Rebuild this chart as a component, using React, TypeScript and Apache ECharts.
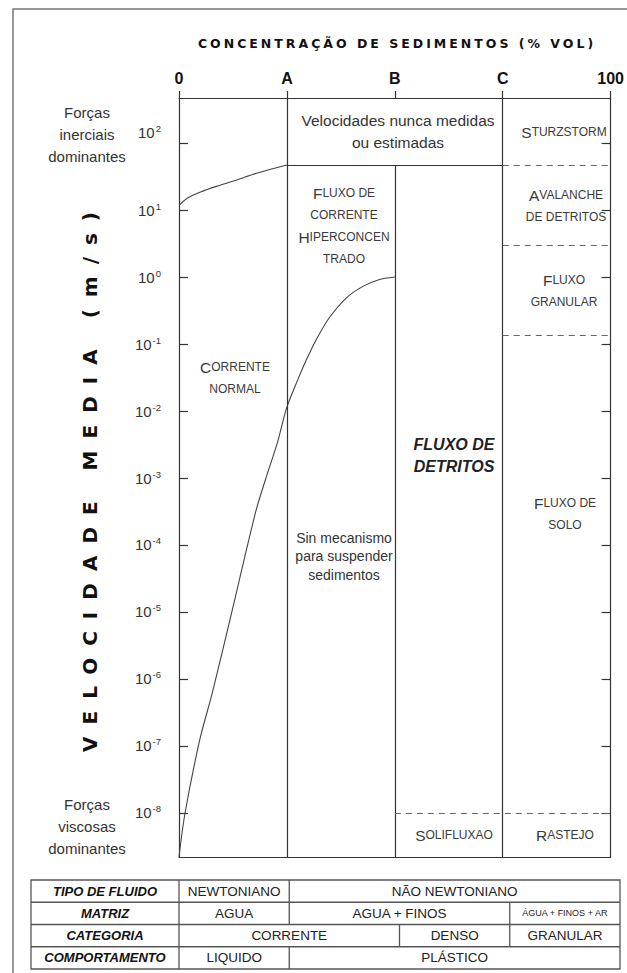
import React, { useEffect, useRef } from "react";
import * as echarts from "echarts";

// ---- axes ----
const xTickValues = [0, 25, 50, 75, 100];
const xTickLabels = ["0", "A", "B", "C", "100"];
const yTickExponents = [-8, -7, -6, -5, -4, -3, -2, -1, 0, 1, 2];
const yMinExp = -8.657;
const yMaxExp = 2.672;

// ---- curves (concentration %, log10 velocity m/s) ----
const upperConc = [0, 2, 5, 9, 13, 18, 25];
const upperLogV = [1.07, 1.18, 1.27, 1.36, 1.44, 1.55, 1.672];
const lowerConc = [0, 1.4, 4.8, 7.7, 12.2, 17.7, 20, 22.9, 24.9, 27.4, 29.7, 32, 34.9, 38.8, 42.6, 46.3, 50];
const lowerLogV = [-8.657, -8.0, -6.91, -6.21, -5.01, -3.52, -3.03, -2.45, -1.96, -1.55, -1.21, -0.91, -0.6, -0.31, -0.14, -0.04, 0];

// ---- region boundaries ----
const boxTopLogV = 1.672;
const solidBoundaries = [
  [[25, yMinExp], [25, yMaxExp]],
  [[50, yMinExp], [50, boxTopLogV]],
  [[75, yMinExp], [75, yMaxExp]],
  [[25, boxTopLogV], [75, boxTopLogV]],
];
const dashedBoundaries = [
  [[75, boxTopLogV], [100, boxTopLogV]],
  [[75, 0.467], [100, 0.467]],
  [[75, -0.866], [100, -0.866]],
  [[50, -8], [100, -8]],
];

// ---- table ----
const tableHeaders = ["TIPO DE FLUIDO", "MATRIZ", "CATEGORIA", "COMPORTAMENTO"];
const tipoFluido = [
  { text: "NEWTONIANO", from: 0, to: 25 },
  { text: "NÃO NEWTONIANO", from: 25, to: 100 },
];
const matriz = [
  { text: "AGUA", from: 0, to: 25 },
  { text: "AGUA + FINOS", from: 25, to: 75 },
  { text: "ÁGUA + FINOS + AR", from: 75, to: 100, small: true },
];
const categoria = [
  { text: "CORRENTE", from: 0, to: 50 },
  { text: "DENSO", from: 50, to: 75 },
  { text: "GRANULAR", from: 75, to: 100 },
];
const comportamento = [
  { text: "LIQUIDO", from: 0, to: 25 },
  { text: "PLÁSTICO", from: 25, to: 100 },
];

const X_TITLE = "CONCENTRAÇÃO DE SEDIMENTOS (% VOL)";
const Y_TITLE = "VELOCIDADE MEDIA (m/s)";
const FONT = "Liberation Sans, Arial, sans-serif";
const TCOL = "#333";

export default function App() {
  const ref = useRef<HTMLDivElement>(null);

  useEffect(() => {
    document.body.style.margin = "0";
    const el = ref.current!;
    const chart = echarts.init(el, null, { renderer: "svg" });

    const gl = 179, gt = 98, gw = 441, gh = 759;
    const xPx = (v: number) => gl + (v / 100) * gw;

    const txt = (text: string, x: number, y: number, extra: any = {}) => ({
      type: "text",
      x,
      y,
      silent: true,
      style: {
        text,
        align: "center",
        verticalAlign: "middle",
        fill: TCOL,
        fontFamily: FONT,
        fontSize: 15,
        lineHeight: 22,
        ...extra,
      },
    });
    const scRich = {
      b: { fontSize: 15.5, lineHeight: 22, fill: "#3a3a3a", fontFamily: FONT },
      s: { fontSize: 12, lineHeight: 22, fill: "#3a3a3a", fontFamily: FONT },
    };
    const sc = (text: string, x: number, y: number) => txt(text, x, y, { rich: scRich });

    const graphics: any[] = [];
    graphics.push({
      type: "rect",
      silent: true,
      z: -10,
      shape: { x: 13, y: 9, width: 800, height: 1100 },
      style: { fill: "none", stroke: "#777", lineWidth: 1.5 },
    });
    graphics.push(txt(X_TITLE, 397, 43, { fontFamily: "DejaVu Sans", fontWeight: "bold", fontSize: 12.5, fill: "#111" }));
    graphics.push({
      type: "text",
      x: 90,
      y: 476,
      rotation: Math.PI / 2,
      silent: true,
      style: {
        text: Y_TITLE,
        align: "center",
        verticalAlign: "middle",
        fill: "#111",
        fontFamily: "DejaVu Sans",
        fontWeight: "bold",
        fontSize: 20,
      },
    });
    graphics.push(txt("Forças\ninerciais\ndominantes", 87, 134));
    graphics.push(txt("Forças\nviscosas\ndominantes", 87, 826));
    graphics.push(txt("Velocidades nunca medidas\nou estimadas", 398, 131, { fontSize: 15.5 }));
    graphics.push(sc("{b|S}{s|TURZSTORM}", 564, 132));
    graphics.push(sc("{b|F}{s|LUXO DE}\n{s|CORRENTE}\n{b|H}{s|IPERCONCEN}\n{s|TRADO}", 344, 226));
    graphics.push(sc("{b|A}{s|VALANCHE}\n{s|DE DETRITOS}", 566, 206));
    graphics.push(sc("{b|F}{s|LUXO}\n{s|GRANULAR}", 564, 291));
    graphics.push(sc("{b|C}{s|ORRENTE}\n{s|NORMAL}", 235, 378));
    graphics.push(txt("FLUXO DE\nDETRITOS", 454, 455, { fontWeight: "bold", fontStyle: "italic", fontSize: 16, fill: "#222" }));
    graphics.push(txt("Sin mecanismo\npara suspender\nsedimentos", 344, 556, { fontSize: 14, lineHeight: 18.5 }));
    graphics.push(sc("{b|F}{s|LUXO DE}\n{s|SOLO}", 565, 514));
    graphics.push(sc("{b|S}{s|OLIFLUXAO}", 454, 835));
    graphics.push(sc("{b|R}{s|ASTEJO}", 565, 835));

    // table
    const tX0 = 31, tTop = 880, rowH = 22.25, tX1 = xPx(100);
    const rows = [tipoFluido, matriz, categoria, comportamento];
    const tStroke = { stroke: "#555", lineWidth: 1.3 };
    graphics.push({
      type: "rect",
      silent: true,
      shape: { x: tX0, y: tTop, width: tX1 - tX0, height: rowH * rows.length },
      style: { fill: "#fff", ...tStroke },
    });
    for (let i = 1; i < rows.length; i++) {
      graphics.push({ type: "line", silent: true, shape: { x1: tX0, y1: tTop + i * rowH, x2: tX1, y2: tTop + i * rowH }, style: tStroke });
    }
    graphics.push({ type: "line", silent: true, shape: { x1: xPx(0), y1: tTop, x2: xPx(0), y2: tTop + rowH * rows.length }, style: tStroke });
    rows.forEach((cells, r) => {
      const yc = tTop + r * rowH + rowH / 2;
      graphics.push(txt(tableHeaders[r], (tX0 + xPx(0)) / 2, yc, { fontWeight: "bold", fontStyle: "italic", fontSize: 13, fill: "#111", lineHeight: 16 }));
      cells.forEach((c: any) => {
        if (c.from > 0) {
          graphics.push({ type: "line", silent: true, shape: { x1: xPx(c.from), y1: tTop + r * rowH, x2: xPx(c.from), y2: tTop + (r + 1) * rowH }, style: tStroke });
        }
        graphics.push(txt(c.text, (xPx(c.from) + xPx(c.to)) / 2, yc, { fontSize: c.small ? 9 : 13.5, lineHeight: 16, fill: "#222" }));
      });
    });

    const axisLineStyle = { color: "#333", width: 1.2 };
    const markData = [
      ...solidBoundaries.map((s) => [
        { coord: s[0], lineStyle: { color: "#333", width: 1.2, type: "solid" } },
        { coord: s[1] },
      ]),
      ...dashedBoundaries.map((s) => [
        { coord: s[0], lineStyle: { color: "#666", width: 1.2, type: [6, 5] } },
        { coord: s[1] },
      ]),
    ];

    const option: any = {
      animation: false,
      grid: { left: gl, top: gt, width: gw, height: gh, containLabel: false },
      xAxis: [
        {
          type: "value",
          position: "top",
          min: 0,
          max: 100,
          axisLine: { onZero: false, lineStyle: axisLineStyle },
          axisTick: { show: true, inside: false, length: 7, customValues: xTickValues, lineStyle: axisLineStyle },
          axisLabel: {
            customValues: xTickValues,
            formatter: (v: number) => {
              const i = xTickValues.indexOf(v);
              return i >= 0 ? xTickLabels[i] : "";
            },
            margin: 12,
            fontFamily: FONT,
            fontWeight: "bold",
            fontSize: 16,
            color: "#111",
          },
          splitLine: { show: false },
        },
        {
          type: "value",
          position: "bottom",
          min: 0,
          max: 100,
          axisLine: { onZero: false, lineStyle: axisLineStyle },
          axisTick: { show: false },
          axisLabel: { show: false },
          splitLine: { show: false },
        },
      ],
      yAxis: [
        {
          type: "value",
          position: "left",
          min: yMinExp,
          max: yMaxExp,
          axisLine: { onZero: false, lineStyle: axisLineStyle },
          axisTick: { show: true, inside: true, length: 9, customValues: yTickExponents, lineStyle: axisLineStyle },
          axisLabel: {
            customValues: yTickExponents,
            margin: 18,
            formatter: (v: number) => {
              const e = Math.round(v);
              return e === 2 ? `{b|10}{sup|${e}}\n{gap| }` : `{b|10}{sup|${e}}`;
            },
            rich: {
              b: { fontFamily: FONT, fontSize: 15, lineHeight: 18, color: TCOL },
              sup: { fontFamily: FONT, fontSize: 9.5, lineHeight: 10, color: TCOL, verticalAlign: "top", padding: [0, 0, 0, 1] },
              gap: { fontSize: 10, lineHeight: 22 },
            },
          },
          splitLine: { show: false },
        },
        {
          type: "value",
          position: "right",
          min: yMinExp,
          max: yMaxExp,
          axisLine: { onZero: false, lineStyle: axisLineStyle },
          axisTick: { show: true, inside: true, length: 9, customValues: yTickExponents, lineStyle: axisLineStyle },
          axisLabel: { show: false },
          splitLine: { show: false },
        },
      ],
      graphic: graphics,
      series: [
        {
          type: "line",
          name: "upper",
          silent: true,
          data: upperConc.map((x, i) => [x, upperLogV[i]]),
          smooth: 0.3,
          symbol: "none",
          lineStyle: { color: "#444", width: 1.1 },
        },
        {
          type: "line",
          name: "lower",
          silent: true,
          data: lowerConc.map((x, i) => [x, lowerLogV[i]]),
          smooth: 0.3,
          symbol: "none",
          lineStyle: { color: "#444", width: 1.1 },
          markLine: {
            silent: true,
            symbol: ["none", "none"],
            label: { show: false },
            emphasis: { disabled: true },
            data: markData,
          },
        },
      ],
    };

    const applySpacing = () => {
      const texts = el.querySelectorAll("text");
      texts.forEach((t) => {
        const s = (t.textContent || "").trim();
        if (s === X_TITLE) (t as any).style.letterSpacing = "3px";
        if (s === Y_TITLE) (t as any).style.letterSpacing = "12px";
      });
    };
    chart.on("finished", applySpacing);
    chart.setOption(option);
    applySpacing();
    const t1 = setTimeout(applySpacing, 50);

    return () => {
      clearTimeout(t1);
      chart.dispose();
    };
  }, []);

  return <div ref={ref} style={{ width: 627, height: 973 }} />;
}
